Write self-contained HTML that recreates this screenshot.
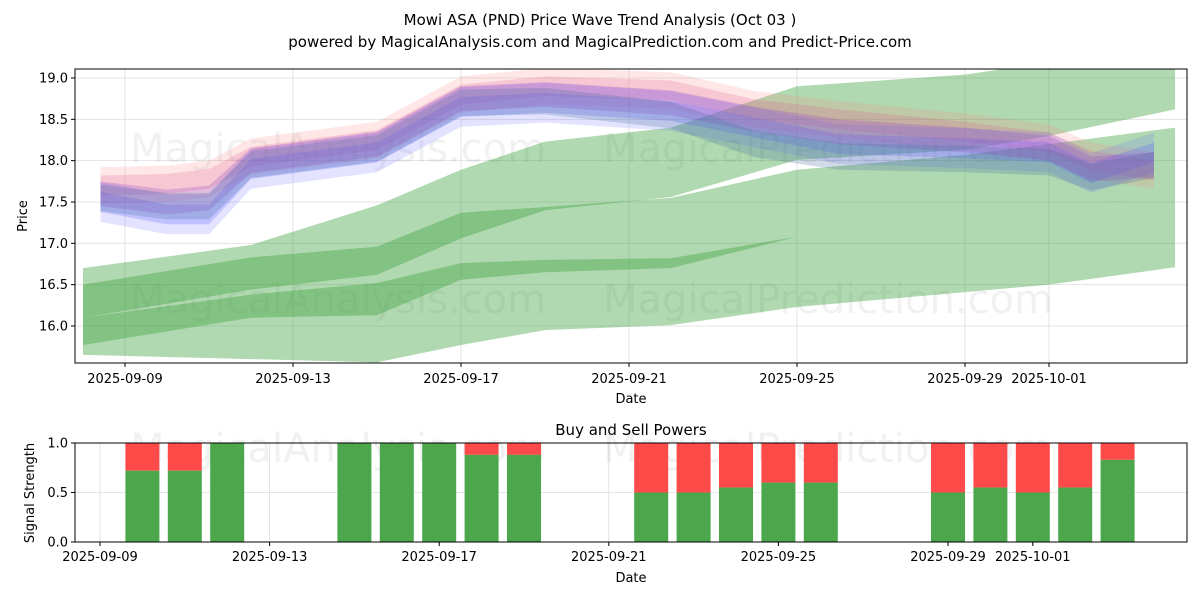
<!DOCTYPE html>
<html><head><meta charset="utf-8"><style>
body{margin:0;background:#fff;font-family:"Liberation Sans","DejaVu Sans",sans-serif;}
svg text{font-family:"DejaVu Sans","Liberation Sans",sans-serif;}
</style></head><body>
<svg id="c" width="1200" height="600" xmlns="http://www.w3.org/2000/svg">
<rect width="1200" height="600" fill="#fff"/>
<text x="600" y="25" font-size="15" text-anchor="middle">Mowi ASA (PND) Price Wave Trend Analysis (Oct 03 )</text>
<text x="600" y="47" font-size="15" text-anchor="middle">powered by MagicalAnalysis.com and MagicalPrediction.com and Predict-Price.com</text>
<g id="topPanel"></g>
<g id="botPanel"></g>
</svg>
<script>
// ---- data ----
const greenDates = ["2025-09-08","2025-09-12","2025-09-15","2025-09-17","2025-09-19","2025-09-22","2025-09-25","2025-09-29","2025-10-01","2025-10-04"];
const greenAUpper = [16.70,16.98,17.46,17.89,18.23,18.40,18.90,19.04,19.19,19.12];
const greenALower = [16.10,16.44,16.62,17.06,17.40,17.56,18.01,18.13,18.30,18.62];
const greenBUpper = [16.50,16.83,16.96,17.37,17.44,17.55,17.89,18.07,18.20,18.40];
const greenBLower = [15.77,16.10,16.13,16.56,16.65,16.70,17.08,17.22,17.33,17.55];
const greenCUpper = [16.10,16.38,16.52,16.76,16.80,16.82,17.08,17.22,17.33,17.55];
const greenCLower = [15.65,15.60,15.56,15.77,15.95,16.01,16.23,16.41,16.50,16.71];
const waveDates = ["2025-09-08T10","2025-09-10","2025-09-11","2025-09-12","2025-09-15","2025-09-17","2025-09-19","2025-09-22","2025-09-24","2025-09-26","2025-09-29","2025-10-01","2025-10-02","2025-10-03T12"];
const waveBlue = [17.50,17.35,17.35,17.90,18.10,18.65,18.70,18.60,18.40,18.20,18.15,18.10,17.85,18.10];
const wavePink = [17.70,17.72,17.78,18.05,18.25,18.80,18.90,18.85,18.62,18.50,18.35,18.22,18.00,17.88];
const wavePurple = [17.60,17.50,17.55,18.00,18.20,18.75,18.80,18.70,18.50,18.35,18.25,18.15,17.90,17.95];
const waveTeal = [17.55,17.45,17.45,17.95,18.15,18.70,18.72,18.55,18.20,18.05,18.02,17.98,17.80,17.95];
const barDates = ["2025-09-10","2025-09-11","2025-09-12","2025-09-15","2025-09-16","2025-09-17","2025-09-18","2025-09-19","2025-09-22","2025-09-23","2025-09-24","2025-09-25","2025-09-26","2025-09-29","2025-09-30","2025-10-01","2025-10-02","2025-10-03"];
const buyPower = [0.72,0.72,1.0,1.0,1.0,1.0,0.88,0.88,0.5,0.5,0.55,0.6,0.6,0.5,0.55,0.5,0.55,0.83];
const topTicks = ["2025-09-09","2025-09-13","2025-09-17","2025-09-21","2025-09-25","2025-09-29","2025-10-01"];
const priceTicks = [16.0,16.5,17.0,17.5,18.0,18.5,19.0];
const sigTicks = [0.0,0.5,1.0];

const NS="http://www.w3.org/2000/svg";
function mk(p,t,a){const e=document.createElementNS(NS,t);for(const k in a)e.setAttribute(k,a[k]);p.appendChild(e);return e;}
const day=s=>(new Date(s.length>10?s+":00:00Z":s+"T00:00:00Z")-new Date("2025-09-09T00:00:00Z"))/864e5;
const L=75,R=1187;
const xT=s=>125+day(s)*42;
const yT=p=>326-(p-16)*82.67;
const xB=s=>100+day(s)*42.4;
const yB=v=>542-v*99;
const topG=document.getElementById('topPanel'), botG=document.getElementById('botPanel');

const defs=mk(document.getElementById('c'),'defs',{});
const cp=mk(defs,'clipPath',{id:'clipT'});mk(cp,'rect',{x:L,y:69,width:R-L,height:294});

priceTicks.forEach(p=>{const g=mk(topG,'line',{x1:L,x2:R,y1:yT(p),y2:yT(p),stroke:'#ddd','stroke-width':0.8});

});
topTicks.forEach(s=>{const g=mk(topG,'line',{x1:xT(s),x2:xT(s),y1:69,y2:363,stroke:'#ddd','stroke-width':0.8});

});

const wm=(p,x,y,t)=>{const e=mk(p,'text',{x:x,y:y,'font-size':40,fill:'rgba(120,120,120,0.1)'});e.textContent=t;

};
wm(topG,130,162,'MagicalAnalysis.com');wm(topG,603,162,'MagicalPrediction.com');
wm(topG,130,313,'MagicalAnalysis.com');wm(topG,603,313,'MagicalPrediction.com');

const gc=mk(topG,'g',{'clip-path':'url(#clipT)'});
function band(dates,up,lo,fill,name){
  let pts=dates.map((d,i)=>xT(d)+','+yT(up[i]));
  for(let i=dates.length-1;i>=0;i--)pts.push(xT(dates[i])+','+yT(lo[i]));
  const e=mk(gc,'polygon',{points:pts.join(' '),fill:fill});
  
  
}
band(greenDates,greenAUpper,greenALower,'rgba(60,160,60,0.4)','green-band-upper');
band(greenDates,greenBUpper,greenBLower,'rgba(60,160,60,0.4)','green-band-middle');
band(greenDates,greenCUpper,greenCLower,'rgba(60,160,60,0.4)','green-band-lower');
function wave(vals,w,fill,name){
  band(waveDates,vals.map(v=>v+w),vals.map(v=>v-w),fill,name);
}
wave(wavePink,0.22,'rgba(255,120,120,0.18)','wave-pink-outer');
wave(wavePink,0.12,'rgba(220,90,140,0.22)','wave-pink-inner');
wave(waveBlue,0.24,'rgba(100,100,255,0.18)','wave-blue-outer');
wave(waveBlue,0.12,'rgba(90,90,255,0.25)','wave-blue-inner');
wave(wavePurple,0.15,'rgba(150,80,200,0.28)','wave-purple');
wave(waveTeal,0.16,'rgba(70,110,160,0.25)','wave-teal');

mk(topG,'rect',{x:L,y:69,width:R-L,height:294,fill:'none',stroke:'#000','stroke-width':1});
priceTicks.forEach(p=>{mk(topG,'line',{x1:L-4,x2:L,y1:yT(p),y2:yT(p),stroke:'#000'});
const t=mk(topG,'text',{x:L-7,y:yT(p)+4.5,'font-size':13,'text-anchor':'end'});t.textContent=p.toFixed(1);

});
topTicks.forEach(s=>{mk(topG,'line',{x1:xT(s),x2:xT(s),y1:363,y2:367,stroke:'#000'});
const t=mk(topG,'text',{x:xT(s),y:383,'font-size':13,'text-anchor':'middle'});t.textContent=s;

});
let t=mk(topG,'text',{x:631,y:403,'font-size':13,'text-anchor':'middle'});t.textContent='Date';

t=mk(topG,'text',{x:27,y:216,'font-size':13,'text-anchor':'middle',transform:'rotate(-90 27 216)'});t.textContent='Price';


t=mk(botG,'text',{x:631,y:435,'font-size':15,'text-anchor':'middle'});t.textContent='Buy and Sell Powers';

const botTicks=["2025-09-09","2025-09-13","2025-09-17","2025-09-21","2025-09-25","2025-09-29","2025-10-01"];
sigTicks.forEach(v=>{const g=mk(botG,'line',{x1:L,x2:R,y1:yB(v),y2:yB(v),stroke:'#ddd','stroke-width':0.8});
});
botTicks.forEach(s=>{const g=mk(botG,'line',{x1:xB(s),x2:xB(s),y1:443,y2:542,stroke:'#ddd','stroke-width':0.8});
});
wm(botG,130,462,'MagicalAnalysis.com');wm(botG,603,462,'MagicalPrediction.com');
barDates.forEach((d,i)=>{
  const x=xB(d)-17;
  const s=mk(botG,'rect',{x:x,y:yB(1),width:34,height:yB(buyPower[i])-yB(1),fill:'#ff4a4a'});
  
  
  const b=mk(botG,'rect',{x:x,y:yB(buyPower[i]),width:34,height:yB(0)-yB(buyPower[i]),fill:'#4ca64c'});
  
  
});
mk(botG,'rect',{x:L,y:443,width:R-L,height:99,fill:'none',stroke:'#000','stroke-width':1});
sigTicks.forEach(v=>{mk(botG,'line',{x1:L-4,x2:L,y1:yB(v),y2:yB(v),stroke:'#000'});
const tt=mk(botG,'text',{x:L-7,y:yB(v)+4.5,'font-size':13,'text-anchor':'end'});tt.textContent=v.toFixed(1);
});
botTicks.forEach(s=>{mk(botG,'line',{x1:xB(s),x2:xB(s),y1:542,y2:546,stroke:'#000'});
const tt=mk(botG,'text',{x:xB(s),y:561,'font-size':13,'text-anchor':'middle'});tt.textContent=s;
});
t=mk(botG,'text',{x:631,y:582,'font-size':13,'text-anchor':'middle'});t.textContent='Date';

t=mk(botG,'text',{x:34,y:493,'font-size':13,'text-anchor':'middle',transform:'rotate(-90 34 493)'});t.textContent='Signal Strength';

</script>
</body></html>
